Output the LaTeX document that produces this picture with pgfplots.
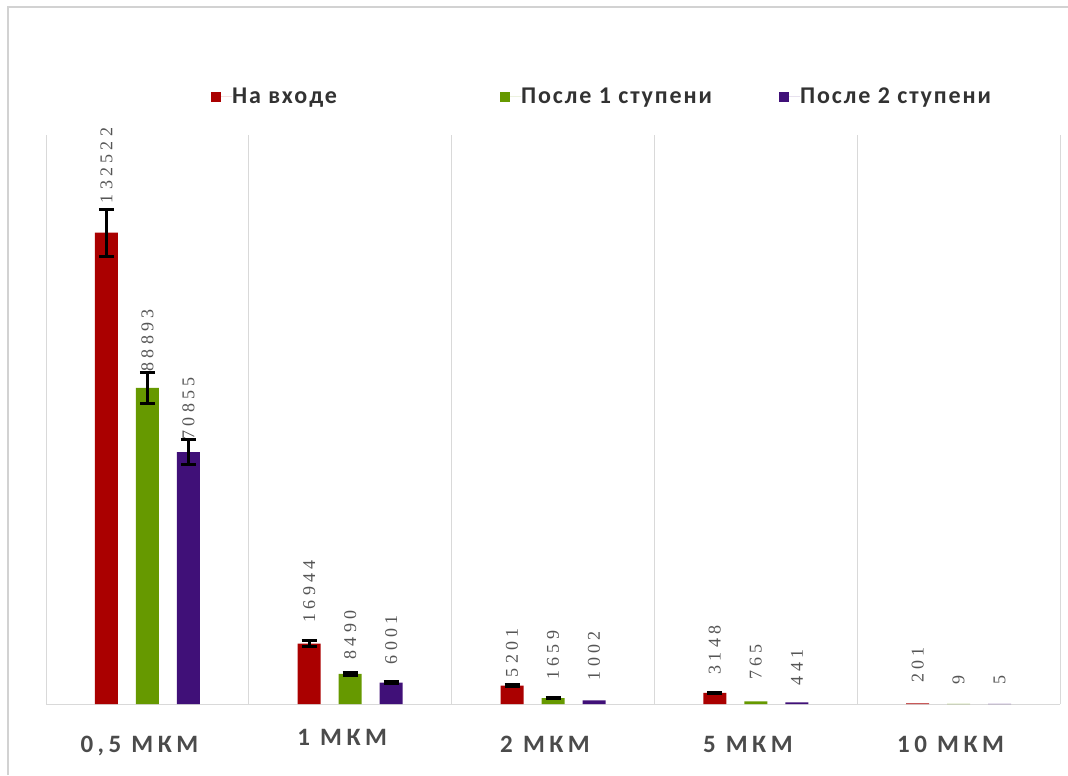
\documentclass[border=0pt]{standalone}
\usepackage{pgfplots}
\usepackage{pgfplotstable}
\pgfplotsset{compat=1.18}
\usepackage{fontspec}
\setmainfont{Carlito}
\newfontfamily\labfont[LetterSpace=18]{Carlito}
\newfontfamily\legfont[LetterSpace=8]{Carlito}
\newfontfamily\numfont[LetterSpace=24]{Liberation Serif}
\definecolor{barred}{RGB}{170,0,0}
\definecolor{bargreen}{RGB}{102,153,0}
\definecolor{barpurple}{RGB}{64,16,120}
\definecolor{gridgray}{RGB}{217,217,217}
\definecolor{framegray}{RGB}{210,210,210}
\definecolor{numgray}{RGB}{85,85,85}
\definecolor{labgray}{RGB}{75,75,75}
\definecolor{leggray}{RGB}{50,50,50}

\pgfplotstableread{
x y off
0 132522 29
1 16944 21
2 5201 8
3 3148 18
4 201 20
}\tabred
\pgfplotstableread{
x y off
0 88893 16
1 8490 14
2 1659 18
3 765 21
4 9 19
}\tabgreen
\pgfplotstableread{
x y off
0 70855 12
1 6001 18
2 1002 20
3 441 17
4 5 19
}\tabpurple
\pgfplotstableread{
x y e
0 132522 6626
1 16944 847
2 5201 260
3 3148 157
}\errred
\pgfplotstableread{
x y e
0 88893 4445
1 8490 425
2 1659 83
}\errgreen
\pgfplotstableread{
x y e
0 70855 3543
1 6001 300
}\errpurple

\pgfplotsset{
  legsq/.style={legend image code/.code={\fill[##1] (0pt,-2.6pt) rectangle (5.2pt,2.6pt); \path (0pt,0pt) -- (10.5pt,0pt);}},
  mainbar/.style={draw=none, fill=#1, legsq,
    point meta=explicit symbolic,
    visualization depends on={\thisrow{off} \as \labeloff},
    nodes near coords={\rotatebox{90}{\pgfplotspointmeta}},
    nodes near coords style={anchor=south, inner sep=0pt, yshift=\labeloff*0.5pt, font=\numfont\fontsize{9pt}{10pt}\selectfont, text=numgray}},
  errbar/.style={draw=none, fill=none, forget plot,
    error bars/y dir=both, error bars/y explicit,
    error bars/error bar style={draw=black, solid, line width=1.5pt},
    error bars/error mark options={rotate=90, draw=black, solid, line width=1.5pt, mark size=3.75pt}},
}

\begin{document}
\begin{tikzpicture}
\useasboundingbox (0,0) rectangle (534pt,387.5pt);
\draw[framegray, line width=1pt] (4pt,0pt) -- (4pt,384pt) -- (534pt,384pt);
\begin{axis}[
  at={(23pt,35.5pt)}, anchor=south west,
  width=507pt, height=284.5pt, scale only axis,
  ybar, bar width=11.5pt,
  xmin=-0.5, xmax=4.5, ymin=0, ymax=160000,
  axis line style={draw=none},
  ytick=\empty,
  xtick={0,1,2,3,4},
  xticklabels={{0,5 МКМ},{\raisebox{3.5pt}{1 МКМ}},{2 МКМ},{5 МКМ},{10 МКМ}},
  xticklabel style={font=\labfont\bfseries\fontsize{12.5pt}{14pt}\selectfont, text=labgray, anchor=base, yshift=-24pt, xshift=-4pt},
  minor xtick={-0.5,0.5,1.5,2.5,3.5,4.5},
  xminorgrids, minor grid style={draw=gridgray, line width=0.5pt},
  major tick length=0pt, minor tick length=0pt,
  extra y ticks={0}, extra y tick labels={},
  extra y tick style={ymajorgrids, major grid style={draw=gridgray, line width=0.5pt}},
  legend columns=3,
  legend cell align=left,
  legend style={at={(0.16272,1)}, anchor=west, yshift=19pt, draw=none, fill=none,
    inner sep=0pt, outer sep=0pt, column sep=0pt, row sep=0pt,
    nodes={inner sep=0pt, outer sep=0pt},
    font=\legfont\bfseries\fontsize{12pt}{14pt}\selectfont, text=leggray},
]
\addplot[mainbar=barred, bar shift=-20.5pt] table[x=x, y=y, meta=y] {\tabred};
\addlegendentry{\makebox[134pt][l]{На входе}}
\addplot[mainbar=bargreen, bar shift=0pt] table[x=x, y=y, meta=y] {\tabgreen};
\addlegendentry{\makebox[129pt][l]{После 1 ступени}}
\addplot[mainbar=barpurple, bar shift=20.5pt] table[x=x, y=y, meta=y] {\tabpurple};
\addlegendentry{После 2 ступени}
\addplot[bar shift=-20.5pt, errbar] table[x=x, y=y, y error=e] {\errred};
\addplot[bar shift=0pt, errbar] table[x=x, y=y, y error=e] {\errgreen};
\addplot[bar shift=20.5pt, errbar] table[x=x, y=y, y error=e] {\errpurple};
\end{axis}
\end{tikzpicture}
\end{document}
